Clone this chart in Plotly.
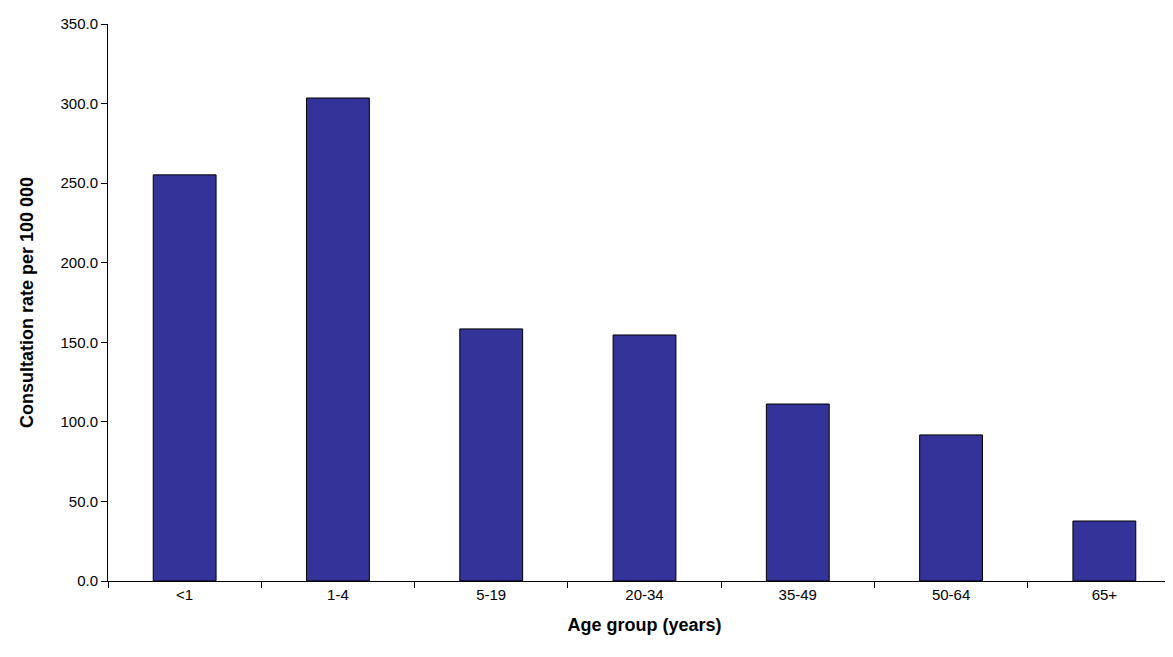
import plotly.graph_objects as go

age_groups = ["<1", "1-4", "5-19", "20-34", "35-49", "50-64", "65+"]
rates = [255.2, 303.5, 158.4, 154.6, 111.2, 91.8, 37.7]

fig = go.Figure(go.Bar(
    x=age_groups, y=rates,
    marker=dict(color="#333399", line=dict(color="black", width=1)),
    width=0.41,
))
fig.update_layout(
    width=1173, height=657,
    margin=dict(l=100, r=0, t=16, b=84),
    plot_bgcolor="white", paper_bgcolor="white",
    font=dict(family="Liberation Sans, Arial", size=15, color="black"),
    showlegend=False,
)
fig.update_xaxes(
    title=dict(text="<b>Age group (years)</b>", standoff=16),
    showline=True, linecolor="black", linewidth=1,
    ticks="outside", ticklen=6, tickcolor="black",
    tickson="boundaries", showgrid=False, tickfont=dict(size=15),
)
fig.update_yaxes(
    title=dict(text="<b>Consultation rate per 100 000</b>", standoff=22),
    range=[0, 350], dtick=50, tickformat=".1f",
    showline=True, linecolor="black", linewidth=1,
    ticks="outside", ticklen=6, tickcolor="black",
    showgrid=False, zeroline=False, tickfont=dict(size=15),
)
fig.write_html("out.html")
